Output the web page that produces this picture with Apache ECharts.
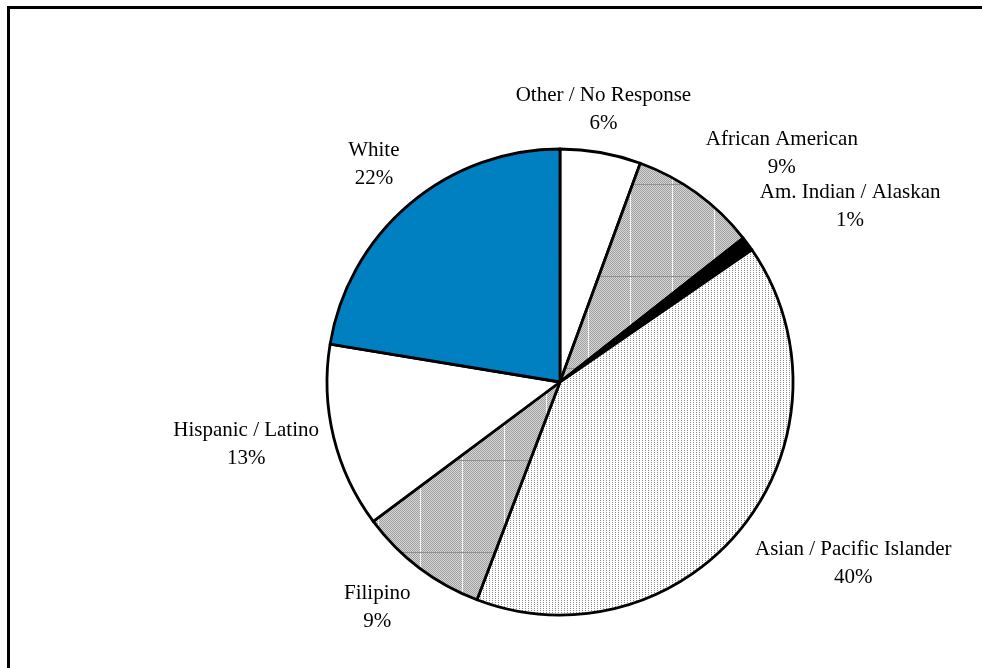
<!DOCTYPE html>
<html>
<head>
<meta charset="utf-8">
<script src="https://cdn.jsdelivr.net/npm/echarts@6/dist/echarts.min.js"></script>
<style>
html,body{margin:0;padding:0;background:#fff;}
#chart{width:982px;height:668px;}
</style>
</head>
<body>
<div id="chart"></div>
<script>
// ---- data ----
const categories = ['Other / No Response','African American','Am. Indian / Alaskan','Asian / Pacific Islander','Filipino','Hispanic / Latino','White'];
const values = [5.6, 8.8, 1.0, 40.4, 9.0, 12.8, 22.4];

// ---- patterns ----
function hatchPattern(){
  const c = document.createElement('canvas');
  c.width = 42; c.height = 92;
  const g = c.getContext('2d');
  g.fillStyle = '#d6d6d6'; g.fillRect(0,0,42,92);
  g.fillStyle = '#a0a0a0';
  for (let y=0; y<92; y++) for (let x=0; x<42; x++) if ((x+y)%2===0) g.fillRect(x,y,1,1);
  g.fillStyle = '#f4f4f4'; g.fillRect(0,0,1,92);
  g.fillStyle = '#909090'; g.fillRect(0,0,42,1);
  return c;
}
function dotPattern(){
  const c = document.createElement('canvas');
  c.width = 3; c.height = 2;
  const g = c.getContext('2d');
  g.fillStyle = '#ffffff'; g.fillRect(0,0,3,2);
  g.fillStyle = '#8a8a8a'; g.fillRect(0,0,1,1);
  return c;
}
const hatch = {image: hatchPattern(), repeat: 'repeat'};
const dots = {image: dotPattern(), repeat: 'repeat'};
const fills = ['#ffffff', hatch, '#000000', dots, hatch, '#ffffff', '#0080c0'];

const CX = 560, CY = 382, R = 233, LABEL_D = 248;
const total = values.reduce((a,b)=>a+b,0);
const midAngles = [];
(function(){
  let acc = 0;
  values.forEach(v => { midAngles.push((acc + v/2) / total * Math.PI * 2); acc += v; });
})();
function clamp(v,a,b){ return Math.max(a, Math.min(b, v)); }

const chart = echarts.init(document.getElementById('chart'), null, {renderer:'canvas'});
chart.setOption({
  animation: false,
  backgroundColor: '#ffffff',
  graphic: [{
    type: 'rect',
    shape: {x: 8.5, y: 7.5, width: 1100, height: 800},
    style: {fill: 'none', stroke: '#000', lineWidth: 3},
    silent: true
  }],
  series: [{
    type: 'pie',
    center: [CX, CY],
    radius: R,
    startAngle: 90,
    clockwise: true,
    avoidLabelOverlap: false,
    data: categories.map((n,i)=>({name:n, value: values[i], itemStyle:{color: fills[i]}})),
    itemStyle: {borderColor: '#000', borderWidth: 2.8},
    label: {
      show: true,
      position: 'outside',
      formatter: p => p.name + '\n' + Math.round(p.percent) + '%',
      fontFamily: 'Liberation Serif',
      fontSize: 21,
      lineHeight: 28,
      color: '#000'
    },
    labelLine: {show: false},
    emphasis: {disabled: true},
    labelLayout: function(params){
      const t = midAngles[params.dataIndex];
      const s = Math.sin(t), c = Math.cos(t);
      const ax = CX + LABEL_D * s, ay = CY - LABEL_D * c;
      const sx = Math.sign(s) * clamp((Math.abs(s) - 0.2) / 0.3, 0, 1);
      const sy = Math.sign(-c) * clamp((Math.abs(c) - 0.2) / 0.3, 0, 1);
      const w = params.labelRect.width, h = params.labelRect.height;
      return {x: ax + w/2 * sx, y: ay + h/2 * sy, align: 'center', verticalAlign: 'middle'};
    }
  }]
});
</script>
</body>
</html>
